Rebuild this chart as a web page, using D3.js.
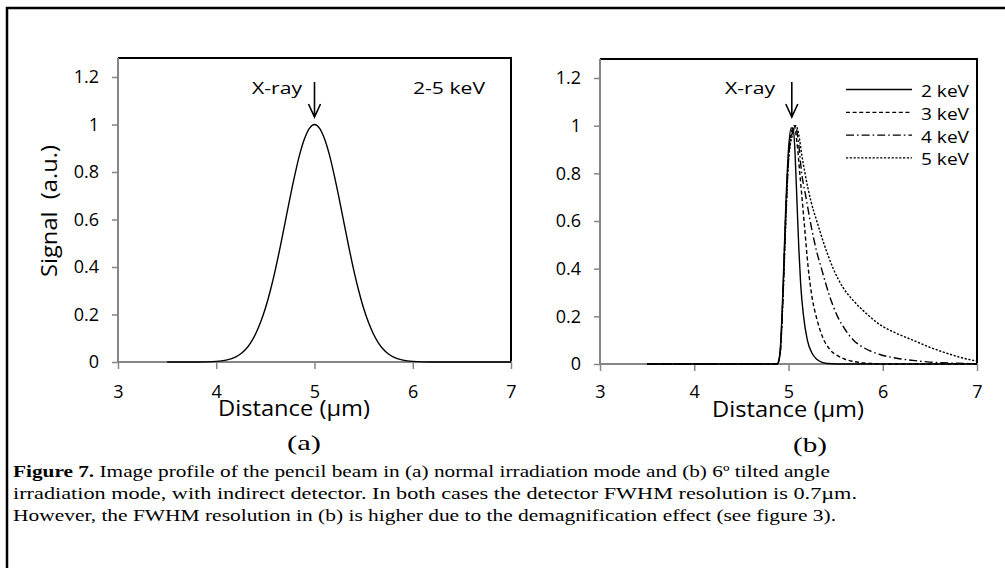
<!DOCTYPE html>
<html>
<head>
<meta charset="utf-8">
<script src="https://cdn.jsdelivr.net/npm/d3@7"></script>
<style>
  html, body { margin: 0; padding: 0; background: #fff; }
  svg { display: block; }
</style>
</head>
<body>
<svg id="chart" width="1005" height="568"></svg>
<script>
// ---------------- data ----------------
const xTicks = [3, 4, 5, 6, 7];
const yTicks = [0, 0.2, 0.4, 0.6, 0.8, 1, 1.2];
const yTickLabels = ["0", "0.2", "0.4", "0.6", "0.8", "1", "1.2"];

// panel (a): normal irradiation, 2-5 keV
const distA = [3.5, 3.8, 4.0, 4.1, 4.2, 4.25, 4.3, 4.35, 4.4, 4.45, 4.5, 4.55, 4.6, 4.65, 4.7, 4.75, 4.8, 4.85, 4.9, 4.95,
               5.0, 5.05, 5.1, 5.15, 5.2, 5.25, 5.3, 5.35, 5.4, 5.45, 5.5, 5.55, 5.6, 5.65, 5.7, 5.75, 5.8, 5.9, 6.0, 6.2, 6.5, 7.0];
const signalA = [0, 0.0002, 0.0026, 0.008, 0.022, 0.035, 0.054, 0.081, 0.118, 0.166, 0.226, 0.300, 0.386, 0.483, 0.586, 0.690, 0.788, 0.875, 0.942, 0.985,
                 1.0, 0.985, 0.942, 0.875, 0.788, 0.690, 0.586, 0.483, 0.386, 0.300, 0.226, 0.166, 0.118, 0.081, 0.054, 0.035, 0.022, 0.008, 0.0026, 0.0002, 0, 0];

// panel (b): 6º tilted irradiation
const seriesNames = ["2 keV", "3 keV", "4 keV", "5 keV"];
const distB2 = [3.5, 4.88, 4.91, 4.94, 4.97, 5.0, 5.03, 5.05, 5.07, 5.09, 5.11, 5.13, 5.16, 5.2, 5.25, 5.3, 5.35, 5.42, 5.5, 7.0];
const sigB2  = [0, 0, 0.05, 0.3, 0.65, 0.9, 0.99, 0.99, 0.88, 0.68, 0.48, 0.33, 0.2, 0.1, 0.045, 0.02, 0.008, 0.002, 0, 0];
const distB3 = [3.5, 4.88, 4.91, 4.94, 4.97, 5.0, 5.03, 5.06, 5.09, 5.12, 5.165, 5.21, 5.25, 5.3, 5.36, 5.44, 5.52, 5.6, 5.7, 5.8, 5.95, 6.1, 7.0];
const sigB3  = [0, 0, 0.04, 0.28, 0.62, 0.87, 0.97, 1.0, 0.93, 0.8, 0.6, 0.4, 0.28, 0.19, 0.115, 0.06, 0.035, 0.02, 0.01, 0.004, 0.001, 0, 0];
const distB4 = [3.5, 4.88, 4.91, 4.94, 4.97, 5.0, 5.04, 5.07, 5.1, 5.14, 5.185, 5.23, 5.3, 5.35, 5.44, 5.52, 5.6, 5.69, 5.8, 5.97, 6.15, 6.32, 6.5, 6.7, 7.0];
const sigB4  = [0, 0, 0.04, 0.27, 0.6, 0.86, 0.97, 1.0, 0.95, 0.8, 0.7, 0.6, 0.47, 0.4, 0.28, 0.2, 0.145, 0.1, 0.068, 0.04, 0.024, 0.015, 0.008, 0.004, 0.001];
const distB5 = [3.5, 4.88, 4.91, 4.94, 4.97, 5.0, 5.04, 5.08, 5.11, 5.14, 5.175, 5.24, 5.3, 5.38, 5.475, 5.58, 5.69, 5.79, 5.97, 6.15, 6.32, 6.5, 6.68, 6.85, 7.0];
const sigB5  = [0, 0, 0.04, 0.26, 0.58, 0.85, 0.96, 1.0, 0.96, 0.88, 0.8, 0.68, 0.6, 0.5, 0.4, 0.32, 0.265, 0.225, 0.165, 0.128, 0.1, 0.07, 0.045, 0.025, 0.012];

const captionLines = [
  ["Figure 7.", " Image profile of the pencil beam in (a) normal irradiation mode and (b) 6º tilted angle"],
  ["", "irradiation mode, with indirect detector. In both cases the detector FWHM resolution is 0.7µm."],
  ["", "However, the FWHM resolution in (b) is higher due to the demagnification effect (see figure 3)."]
];

// ---------------- drawing ----------------
const svg = d3.select("#chart");
const SANS = "'Open Sans', 'DejaVu Sans', sans-serif";
const SERIF = "'Liberation Serif', 'Times New Roman', serif";
const GREY = "#868686";

// outer frame (left & top edges visible)
svg.append("path").attr("d", "M7,570 L7,8 L1010,8")
  .attr("fill", "none").attr("stroke", "#000").attr("stroke-width", 2.5);

function panel(cfg) {
  const x = d3.scaleLinear().domain([3, 7]).range([cfg.left, cfg.right]);
  const y = d3.scaleLinear().domain([0, 1.2]).range([cfg.bottom, cfg.y12]);
  const g = svg.append("g");

  // black frame: top & right
  g.append("path")
    .attr("d", `M${cfg.left},${cfg.top} L${cfg.right},${cfg.top} L${cfg.right},${cfg.bottom}`)
    .attr("fill", "none").attr("stroke", "#000").attr("stroke-width", 2);

  // y axis
  const ya = g.append("g").attr("transform", `translate(${cfg.left},0)`)
    .call(d3.axisLeft(y).tickValues(yTicks).tickSize(6).tickSizeOuter(0).tickPadding(cfg.yPad)
      .tickFormat((d, i) => yTickLabels[i]));
  ya.select(".domain").remove();
  g.append("line").attr("x1", cfg.left).attr("x2", cfg.left).attr("y1", cfg.top).attr("y2", cfg.bottom + 1)
    .attr("stroke", GREY).attr("stroke-width", 2);

  // x axis
  const xa = g.append("g").attr("transform", `translate(0,${cfg.bottom})`)
    .call(d3.axisBottom(x).tickValues(xTicks).tickSize(7).tickSizeOuter(0).tickPadding(cfg.xPad)
      .tickFormat(d3.format("d")));
  xa.select(".domain").remove();
  g.append("line").attr("x1", cfg.left - 1).attr("x2", cfg.right + 1).attr("y1", cfg.bottom).attr("y2", cfg.bottom)
    .attr("stroke", GREY).attr("stroke-width", 2);

  [ya, xa].forEach(a => {
    a.selectAll(".tick line").attr("stroke", GREY).attr("stroke-width", 1.5);
    a.selectAll(".tick text").attr("font-family", SANS).attr("font-size", 18).attr("fill", "#000");
  });

  // x title
  g.append("text").attr("x", cfg.xTitleX).attr("y", cfg.xTitleY)
    .attr("text-anchor", "middle").attr("font-family", SANS).attr("font-size", 21)
    .attr("textLength", 152).attr("lengthAdjust", "spacingAndGlyphs")
    .text("Distance (µm)");

  // sub label (a)/(b)
  g.append("text").attr("x", cfg.subX).attr("y", cfg.subY).attr("text-anchor", "middle")
    .attr("font-family", SERIF).attr("font-size", 21)
    .attr("textLength", 34).attr("lengthAdjust", "spacingAndGlyphs")
    .text(cfg.sub);

  // X-ray annotation + arrow
  g.append("text").attr("x", cfg.xrayRight).attr("y", 94).attr("text-anchor", "end")
    .attr("font-family", SANS).attr("font-size", 17)
    .attr("textLength", 50).attr("lengthAdjust", "spacingAndGlyphs")
    .text("X-ray");
  const ax = x(cfg.arrowAt);
  g.append("path")
    .attr("d", `M${ax},82 L${ax},117 M${ax - 6},104 L${ax},117 L${ax + 6},104`)
    .attr("fill", "none").attr("stroke", "#000").attr("stroke-width", 1.6);

  return { g, x, y };
}

// ---- panel (a)
const pa = panel({ left: 118, right: 511, top: 58, bottom: 362, y12: 77, yPad: 13, xPad: 16,
  xTitleX: 294, xTitleY: 416, sub: "(a)", subX: 304, subY: 450, xrayRight: 302, arrowAt: 5 });

const lineA = d3.line().x(d => pa.x(d[0])).y(d => pa.y(d[1])).curve(d3.curveMonotoneX);
pa.g.append("path").datum(distA.map((d, i) => [d, signalA[i]]))
  .attr("d", lineA).attr("fill", "none").attr("stroke", "#000").attr("stroke-width", 1.4);

pa.g.append("text").attr("x", 413).attr("y", 94).attr("font-family", SANS).attr("font-size", 17)
  .attr("textLength", 72).attr("lengthAdjust", "spacingAndGlyphs").text("2-5 keV");

// y title (panel a)
svg.append("text").attr("transform", "translate(57,211) rotate(-90)")
  .attr("text-anchor", "middle").attr("font-family", SANS).attr("font-size", 22)
  .attr("textLength", 132).attr("lengthAdjust", "spacingAndGlyphs")
  .attr("xml:space", "preserve")
  .text("Signal  (a.u.)");

// ---- panel (b)
const pb = panel({ left: 600, right: 977, top: 59, bottom: 364, y12: 78, yPad: 13, xPad: 14,
  xTitleX: 788, xTitleY: 417, sub: "(b)", subX: 810, subY: 452, xrayRight: 775, arrowAt: 5.035 });

const dashes = [null, "4,2.6", "8,3,1.6,3", "2.2,1.6"];
const seriesB = [
  distB2.map((d, i) => [d, sigB2[i]]),
  distB3.map((d, i) => [d, sigB3[i]]),
  distB4.map((d, i) => [d, sigB4[i]]),
  distB5.map((d, i) => [d, sigB5[i]])
];
const lineB = d3.line().x(d => pb.x(d[0])).y(d => pb.y(d[1])).curve(d3.curveMonotoneX);
pb.g.selectAll("path.series").data(seriesB).join("path").attr("class", "series")
  .attr("d", lineB).attr("fill", "none").attr("stroke", "#000").attr("stroke-width", 1.4)
  .attr("stroke-dasharray", (d, i) => dashes[i]);

// legend
const legBase = [97, 119.8, 142.6, 165.4];
const leg = pb.g.selectAll("g.leg").data(seriesNames).join("g").attr("class", "leg");
leg.append("line").attr("x1", 846).attr("x2", 912)
  .attr("y1", (d, i) => legBase[i] - 7.5).attr("y2", (d, i) => legBase[i] - 7.5)
  .attr("stroke", "#000").attr("stroke-width", 1.3)
  .attr("stroke-dasharray", (d, i) => dashes[i]);
leg.append("text").attr("x", 921).attr("y", (d, i) => legBase[i])
  .attr("font-family", SANS).attr("font-size", 17)
  .attr("textLength", 48).attr("lengthAdjust", "spacingAndGlyphs")
  .text(d => d);

// ---- caption
const capW = [817, 844, 823];
const capY = [477, 499, 521];
captionLines.forEach((ln, i) => {
  const t = svg.append("text").attr("x", 13).attr("y", capY[i])
    .attr("font-family", SERIF).attr("font-size", 16.5).attr("fill", "#000")
    .attr("textLength", capW[i]).attr("lengthAdjust", "spacingAndGlyphs")
    .attr("xml:space", "preserve");
  if (ln[0]) t.append("tspan").attr("font-weight", "bold").text(ln[0]);
  t.append("tspan").text(ln[1]);
});
</script>
</body>
</html>
